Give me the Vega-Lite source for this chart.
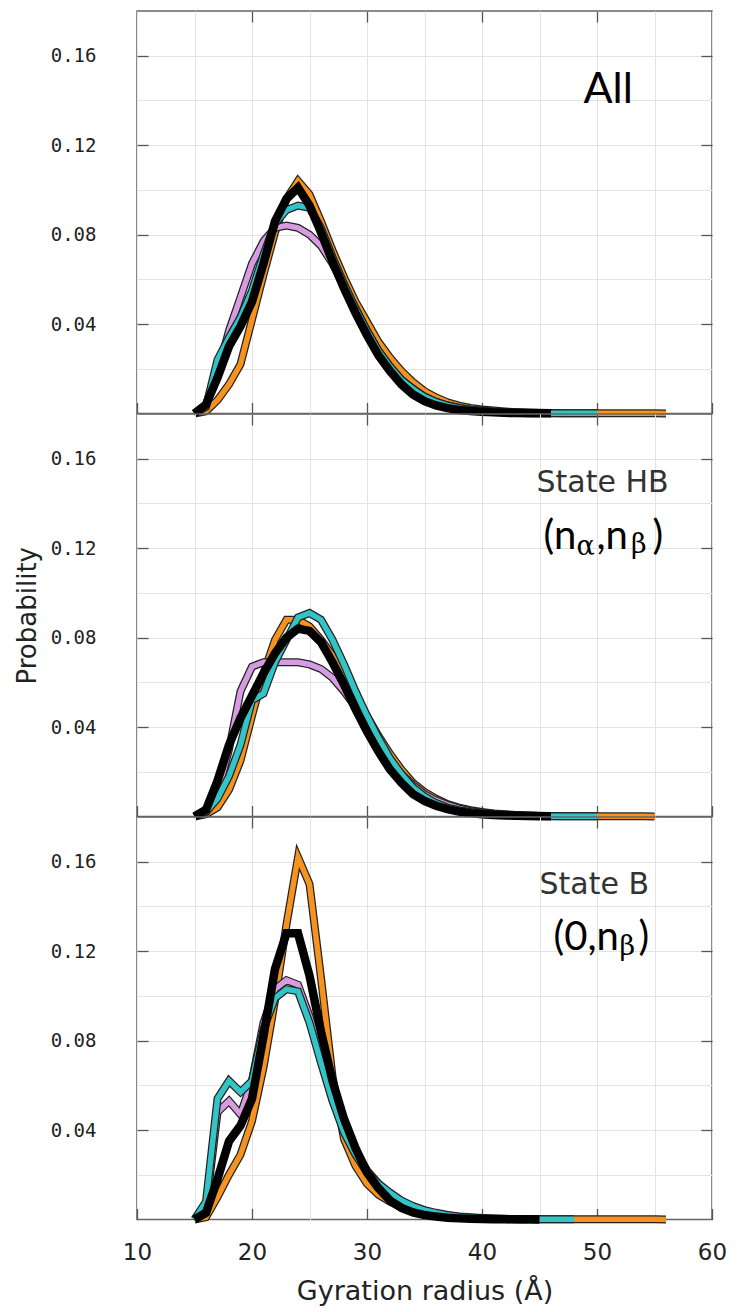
{
  "$schema": "https://vega.github.io/schema/vega-lite/v6.json",
  "padding": {"left": 13, "top": 9, "right": 5, "bottom": 5},
  "background": "white",
  "spacing": 0,
  "bounds": "flush",
  "config": {
    "concat": {"spacing": 0},
    "view": {"stroke": "#666", "strokeWidth": 1.5},
    "axis": {"domain": false, "minExtent": 0, "gridColor": "#e3e3e3", "gridWidth": 1, "tickColor": "#555", "tickWidth": 1.3, "labelColor": "#222", "titleColor": "#222", "titleFontWeight": "normal", "labelFlush": false, "labelOverlap": false, "labelBound": false},
    "axisX": {"labelFont": "DejaVu Sans", "labelFontSize": 23, "titleFont": "DejaVu Sans", "titleFontSize": 27},
    "axisY": {"labelFont": "DejaVu Sans Mono", "labelFontSize": 19, "titleFont": "DejaVu Sans", "titleFontSize": 26}
  },
  "datasets": {
    "curves": [
      {"panel":"All","x":15,"orange":0,"purple":0,"cyan":0,"black":0},
      {"panel":"All","x":16,"orange":0.001,"purple":0.004,"cyan":0.003,"black":0.004},
      {"panel":"All","x":17,"orange":0.006,"purple":0.018,"cyan":0.024,"black":0.016},
      {"panel":"All","x":18,"orange":0.013,"purple":0.037,"cyan":0.034,"black":0.030},
      {"panel":"All","x":19,"orange":0.022,"purple":0.052,"cyan":0.043,"black":0.039},
      {"panel":"All","x":20,"orange":0.042,"purple":0.067,"cyan":0.055,"black":0.050},
      {"panel":"All","x":21,"orange":0.062,"purple":0.077,"cyan":0.071,"black":0.067},
      {"panel":"All","x":22,"orange":0.081,"purple":0.083,"cyan":0.085,"black":0.086},
      {"panel":"All","x":23,"orange":0.096,"purple":0.084,"cyan":0.091,"black":0.096},
      {"panel":"All","x":24,"orange":0.104,"purple":0.083,"cyan":0.093,"black":0.101},
      {"panel":"All","x":25,"orange":0.098,"purple":0.080,"cyan":0.092,"black":0.093},
      {"panel":"All","x":26,"orange":0.086,"purple":0.075,"cyan":0.083,"black":0.081},
      {"panel":"All","x":27,"orange":0.073,"purple":0.067,"cyan":0.070,"black":0.068},
      {"panel":"All","x":28,"orange":0.061,"purple":0.057,"cyan":0.058,"black":0.056},
      {"panel":"All","x":29,"orange":0.050,"purple":0.047,"cyan":0.047,"black":0.045},
      {"panel":"All","x":30,"orange":0.041,"purple":0.037,"cyan":0.037,"black":0.035},
      {"panel":"All","x":31,"orange":0.032,"purple":0.028,"cyan":0.028,"black":0.026},
      {"panel":"All","x":32,"orange":0.025,"purple":0.021,"cyan":0.021,"black":0.019},
      {"panel":"All","x":33,"orange":0.019,"purple":0.015,"cyan":0.015,"black":0.013},
      {"panel":"All","x":34,"orange":0.014,"purple":0.011,"cyan":0.011,"black":0.0085},
      {"panel":"All","x":35,"orange":0.010,"purple":0.0075,"cyan":0.0075,"black":0.0055},
      {"panel":"All","x":36,"orange":0.0072,"purple":0.0052,"cyan":0.0052,"black":0.0036},
      {"panel":"All","x":37,"orange":0.005,"purple":0.0036,"cyan":0.0036,"black":0.0024},
      {"panel":"All","x":38,"orange":0.0035,"purple":0.0025,"cyan":0.0025,"black":0.0016},
      {"panel":"All","x":39,"orange":0.0025,"purple":0.0017,"cyan":0.0017,"black":0.0011},
      {"panel":"All","x":40,"orange":0.0018,"purple":0.0012,"cyan":0.0012,"black":0.0008},
      {"panel":"All","x":41,"orange":0.0013,"purple":0.0008,"cyan":0.0009,"black":0.0005},
      {"panel":"All","x":42,"orange":0.0009,"purple":0.0005,"cyan":0.0006,"black":0.0003},
      {"panel":"All","x":43,"orange":0.0006,"purple":0.0003,"cyan":0.0004,"black":0.0002},
      {"panel":"All","x":44,"orange":0.0004,"purple":0.0002,"cyan":0.0003,"black":0.0001},
      {"panel":"All","x":45,"orange":0.0003,"purple":0.0001,"cyan":0.0002,"black":0.0001},
      {"panel":"All","x":46,"orange":0.0002,"cyan":0.0001,"black":0.0001},
      {"panel":"All","x":47,"orange":0.0001,"cyan":0.0001},
      {"panel":"All","x":48,"orange":0.0001,"cyan":0.0001},
      {"panel":"All","x":49,"orange":0.0001,"cyan":0.0001},
      {"panel":"All","x":50,"orange":0.0001,"cyan":0.0001},
      {"panel":"All","x":51,"orange":0.0001},
      {"panel":"All","x":52,"orange":0.0001},
      {"panel":"All","x":53,"orange":0.0001},
      {"panel":"All","x":54,"orange":0.0001},
      {"panel":"All","x":55,"orange":0.0001},
      {"panel":"All","x":56,"orange":0},

      {"panel":"HB","x":15,"orange":0,"purple":0,"cyan":0,"black":0},
      {"panel":"HB","x":16,"orange":0.001,"purple":0.002,"cyan":0.002,"black":0.003},
      {"panel":"HB","x":17,"orange":0.004,"purple":0.010,"cyan":0.008,"black":0.016},
      {"panel":"HB","x":18,"orange":0.012,"purple":0.030,"cyan":0.018,"black":0.032},
      {"panel":"HB","x":19,"orange":0.025,"purple":0.056,"cyan":0.032,"black":0.044},
      {"panel":"HB","x":20,"orange":0.045,"purple":0.067,"cyan":0.052,"black":0.054},
      {"panel":"HB","x":21,"orange":0.064,"purple":0.069,"cyan":0.055,"black":0.064},
      {"panel":"HB","x":22,"orange":0.079,"purple":0.069,"cyan":0.069,"black":0.073},
      {"panel":"HB","x":23,"orange":0.088,"purple":0.069,"cyan":0.079,"black":0.080},
      {"panel":"HB","x":24,"orange":0.088,"purple":0.069,"cyan":0.089,"black":0.084},
      {"panel":"HB","x":25,"orange":0.085,"purple":0.068,"cyan":0.091,"black":0.083},
      {"panel":"HB","x":26,"orange":0.079,"purple":0.066,"cyan":0.088,"black":0.078},
      {"panel":"HB","x":27,"orange":0.072,"purple":0.062,"cyan":0.079,"black":0.069},
      {"panel":"HB","x":28,"orange":0.063,"purple":0.056,"cyan":0.068,"black":0.059},
      {"panel":"HB","x":29,"orange":0.054,"purple":0.049,"cyan":0.056,"black":0.048},
      {"panel":"HB","x":30,"orange":0.045,"purple":0.041,"cyan":0.045,"black":0.038},
      {"panel":"HB","x":31,"orange":0.036,"purple":0.033,"cyan":0.035,"black":0.029},
      {"panel":"HB","x":32,"orange":0.028,"purple":0.025,"cyan":0.026,"black":0.021},
      {"panel":"HB","x":33,"orange":0.021,"purple":0.019,"cyan":0.019,"black":0.015},
      {"panel":"HB","x":34,"orange":0.015,"purple":0.014,"cyan":0.013,"black":0.010},
      {"panel":"HB","x":35,"orange":0.011,"purple":0.010,"cyan":0.009,"black":0.007},
      {"panel":"HB","x":36,"orange":0.008,"purple":0.0072,"cyan":0.006,"black":0.0048},
      {"panel":"HB","x":37,"orange":0.0055,"purple":0.0052,"cyan":0.004,"black":0.0033},
      {"panel":"HB","x":38,"orange":0.004,"purple":0.0036,"cyan":0.0028,"black":0.0022},
      {"panel":"HB","x":39,"orange":0.0028,"purple":0.0025,"cyan":0.002,"black":0.0015},
      {"panel":"HB","x":40,"orange":0.002,"purple":0.0017,"cyan":0.0014,"black":0.001},
      {"panel":"HB","x":41,"orange":0.0014,"purple":0.0012,"cyan":0.001,"black":0.0007},
      {"panel":"HB","x":42,"orange":0.001,"purple":0.0008,"cyan":0.0007,"black":0.0005},
      {"panel":"HB","x":43,"orange":0.0007,"purple":0.0005,"cyan":0.0005,"black":0.0003},
      {"panel":"HB","x":44,"orange":0.0005,"purple":0.0003,"cyan":0.0003,"black":0.0002},
      {"panel":"HB","x":45,"orange":0.0003,"purple":0.0002,"cyan":0.0002,"black":0.0001},
      {"panel":"HB","x":46,"orange":0.0002,"cyan":0.0001,"black":0.0001},
      {"panel":"HB","x":47,"orange":0.0001,"cyan":0.0001},
      {"panel":"HB","x":48,"orange":0.0001,"cyan":0.0001},
      {"panel":"HB","x":49,"orange":0.0001,"cyan":0.0001},
      {"panel":"HB","x":50,"orange":0.0001,"cyan":0.0001},
      {"panel":"HB","x":51,"orange":0.0001},
      {"panel":"HB","x":52,"orange":0.0001},
      {"panel":"HB","x":53,"orange":0.0001},
      {"panel":"HB","x":54,"orange":0.0001},
      {"panel":"HB","x":55,"orange":0},

      {"panel":"B","x":15,"orange":0,"purple":0,"cyan":0,"black":0},
      {"panel":"B","x":16,"orange":0.001,"purple":0.005,"cyan":0.008,"black":0.003},
      {"panel":"B","x":17,"orange":0.010,"purple":0.048,"cyan":0.054,"black":0.018},
      {"panel":"B","x":18,"orange":0.020,"purple":0.053,"cyan":0.062,"black":0.035},
      {"panel":"B","x":19,"orange":0.029,"purple":0.047,"cyan":0.057,"black":0.042},
      {"panel":"B","x":20,"orange":0.044,"purple":0.062,"cyan":0.062,"black":0.054},
      {"panel":"B","x":21,"orange":0.068,"purple":0.088,"cyan":0.085,"black":0.082},
      {"panel":"B","x":22,"orange":0.098,"purple":0.103,"cyan":0.099,"black":0.112},
      {"panel":"B","x":23,"orange":0.132,"purple":0.107,"cyan":0.103,"black":0.128},
      {"panel":"B","x":24,"orange":0.162,"purple":0.105,"cyan":0.102,"black":0.128},
      {"panel":"B","x":25,"orange":0.150,"purple":0.091,"cyan":0.088,"black":0.109},
      {"panel":"B","x":26,"orange":0.108,"purple":0.074,"cyan":0.070,"black":0.084},
      {"panel":"B","x":27,"orange":0.064,"purple":0.057,"cyan":0.053,"black":0.062},
      {"panel":"B","x":28,"orange":0.036,"purple":0.043,"cyan":0.039,"black":0.045},
      {"panel":"B","x":29,"orange":0.024,"purple":0.031,"cyan":0.029,"black":0.032},
      {"panel":"B","x":30,"orange":0.016,"purple":0.022,"cyan":0.021,"black":0.021},
      {"panel":"B","x":31,"orange":0.011,"purple":0.016,"cyan":0.016,"black":0.014},
      {"panel":"B","x":32,"orange":0.008,"purple":0.011,"cyan":0.012,"black":0.0085},
      {"panel":"B","x":33,"orange":0.0055,"purple":0.0078,"cyan":0.0085,"black":0.0052},
      {"panel":"B","x":34,"orange":0.004,"purple":0.0055,"cyan":0.006,"black":0.0032},
      {"panel":"B","x":35,"orange":0.003,"purple":0.0038,"cyan":0.0042,"black":0.002},
      {"panel":"B","x":36,"orange":0.002,"purple":0.0026,"cyan":0.003,"black":0.0013},
      {"panel":"B","x":37,"orange":0.0014,"purple":0.0018,"cyan":0.002,"black":0.0008},
      {"panel":"B","x":38,"orange":0.001,"purple":0.0012,"cyan":0.0014,"black":0.0005},
      {"panel":"B","x":39,"orange":0.0007,"purple":0.0008,"cyan":0.001,"black":0.0003},
      {"panel":"B","x":40,"orange":0.0005,"purple":0.0005,"cyan":0.0007,"black":0.0002},
      {"panel":"B","x":41,"orange":0.0003,"purple":0.0003,"cyan":0.0005,"black":0.0001},
      {"panel":"B","x":42,"orange":0.0002,"purple":0.0002,"cyan":0.0003,"black":0.0001},
      {"panel":"B","x":43,"orange":0.0001,"purple":0.0001,"cyan":0.0002,"black":0.0001},
      {"panel":"B","x":44,"orange":0.0001,"purple":0.0001,"cyan":0.0001,"black":0.0001},
      {"panel":"B","x":45,"orange":0.0001,"cyan":0.0001,"black":0},
      {"panel":"B","x":46,"orange":0.0001,"cyan":0.0001},
      {"panel":"B","x":47,"orange":0.0001,"cyan":0.0001},
      {"panel":"B","x":48,"orange":0.0001,"cyan":0.0001},
      {"panel":"B","x":49,"orange":0.0001},
      {"panel":"B","x":50,"orange":0.0001},
      {"panel":"B","x":51,"orange":0.0001},
      {"panel":"B","x":52,"orange":0.0001},
      {"panel":"B","x":53,"orange":0.0001},
      {"panel":"B","x":54,"orange":0.0001},
      {"panel":"B","x":55,"orange":0.0001},
      {"panel":"B","x":56,"orange":0}
    ]
  },
  "data": {"name": "curves"},
  "vconcat": [
    {
      "width": 575, "height": 402.5,
      "layer": [
        {
          "transform": [{"filter": "datum.panel === 'All'"}, {"fold": ["orange", "purple", "cyan", "black"], "as": ["series", "prob"]}, {"filter": "isValid(datum.prob)"}],
          "encoding": {
            "x": {"field": "x", "type": "quantitative", "scale": {"domain": [10, 60], "nice": false, "zero": false},
              "axis": {"orient": "bottom", "values": [10,15,20,25,30,35,40,45,50,55,60], "grid": true, "tickSize": -11, "tickOpacity": {"condition": {"test": "datum.value % 10 === 0", "value": 1}, "value": 0}, "labels": false, "title": null}},
            "y": {"field": "prob", "type": "quantitative", "scale": {"domain": [0, 0.18], "nice": false},
              "axis": {"orient": "left", "values": [0.02,0.04,0.06,0.08,0.1,0.12,0.14,0.16], "grid": true, "tickSize": -11, "tickOpacity": {"condition": {"test": "round(datum.value*100) % 4 === 0", "value": 1}, "value": 0}, "labelExpr": "round(datum.value*100) % 4 === 0 ? format(datum.value, '.2f') : ''", "labelPadding": 52, "title": null}}
          },
          "layer": [
            {"transform": [{"filter": "datum.series === 'orange'"}], "mark": {"type": "line", "stroke": "#222", "strokeWidth": 8}},
            {"transform": [{"filter": "datum.series === 'orange'"}], "mark": {"type": "line", "stroke": "#F6921E", "strokeWidth": 5.5}},
            {"transform": [{"filter": "datum.series === 'purple'"}], "mark": {"type": "line", "stroke": "#222", "strokeWidth": 8}},
            {"transform": [{"filter": "datum.series === 'purple'"}], "mark": {"type": "line", "stroke": "#D69BE0", "strokeWidth": 5.5}},
            {"transform": [{"filter": "datum.series === 'cyan'"}], "mark": {"type": "line", "stroke": "#222", "strokeWidth": 8}},
            {"transform": [{"filter": "datum.series === 'cyan'"}], "mark": {"type": "line", "stroke": "#33C4C8", "strokeWidth": 5.5}},
            {"transform": [{"filter": "datum.series === 'black'"}], "mark": {"type": "line", "stroke": "#000", "strokeWidth": 8.5}}
          ]
        },
        {
          "data": {"values": [{"t": "All", "x": 48.83, "y": 0.1388}]},
          "mark": {"type": "text", "align": "left", "baseline": "alphabetic", "font": "Lato", "fontSize": 43, "color": "#000"},
          "encoding": {
            "x": {"field": "x", "type": "quantitative", "scale": {"domain": [10, 60], "nice": false, "zero": false},
              "axis": {"orient": "top", "values": [20,30,40,50], "grid": false, "labels": false, "tickSize": -11, "title": null}},
            "y": {"field": "y", "type": "quantitative", "scale": {"domain": [0, 0.18], "nice": false},
              "axis": {"orient": "right", "values": [0.04,0.08,0.12,0.16], "grid": false, "labels": false, "tickSize": -11, "title": null}},
            "text": {"field": "t"}
          }
        }
      ],
      "resolve": {"axis": {"x": "independent", "y": "independent"}}
    },
    {
      "width": 575, "height": 402.5,
      "layer": [
        {
          "transform": [{"filter": "datum.panel === 'HB'"}, {"fold": ["orange", "purple", "cyan", "black"], "as": ["series", "prob"]}, {"filter": "isValid(datum.prob)"}],
          "encoding": {
            "x": {"field": "x", "type": "quantitative", "scale": {"domain": [10, 60], "nice": false, "zero": false},
              "axis": {"orient": "bottom", "values": [10,15,20,25,30,35,40,45,50,55,60], "grid": true, "tickSize": -11, "tickOpacity": {"condition": {"test": "datum.value % 10 === 0", "value": 1}, "value": 0}, "labels": false, "title": null}},
            "y": {"field": "prob", "type": "quantitative", "scale": {"domain": [0, 0.18], "nice": false},
              "axis": {"orient": "left", "values": [0.02,0.04,0.06,0.08,0.1,0.12,0.14,0.16], "grid": true, "tickSize": -11, "tickOpacity": {"condition": {"test": "round(datum.value*100) % 4 === 0", "value": 1}, "value": 0}, "labelExpr": "round(datum.value*100) % 4 === 0 ? format(datum.value, '.2f') : ''", "labelPadding": 52, "title": "Probability", "titlePadding": 10}}
          },
          "layer": [
            {"transform": [{"filter": "datum.series === 'orange'"}], "mark": {"type": "line", "stroke": "#222", "strokeWidth": 8}},
            {"transform": [{"filter": "datum.series === 'orange'"}], "mark": {"type": "line", "stroke": "#F6921E", "strokeWidth": 5.5}},
            {"transform": [{"filter": "datum.series === 'purple'"}], "mark": {"type": "line", "stroke": "#222", "strokeWidth": 8}},
            {"transform": [{"filter": "datum.series === 'purple'"}], "mark": {"type": "line", "stroke": "#D69BE0", "strokeWidth": 5.5}},
            {"transform": [{"filter": "datum.series === 'cyan'"}], "mark": {"type": "line", "stroke": "#222", "strokeWidth": 8}},
            {"transform": [{"filter": "datum.series === 'cyan'"}], "mark": {"type": "line", "stroke": "#33C4C8", "strokeWidth": 5.5}},
            {"transform": [{"filter": "datum.series === 'black'"}], "mark": {"type": "line", "stroke": "#000", "strokeWidth": 8.5}}
          ]
        },
        {
          "encoding": {
            "x": {"field": "x", "type": "quantitative", "scale": {"domain": [10, 60], "nice": false, "zero": false},
              "axis": {"orient": "top", "values": [20,30,40,50], "grid": false, "labels": false, "tickSize": -11, "title": null}},
            "y": {"field": "y", "type": "quantitative", "scale": {"domain": [0, 0.18], "nice": false},
              "axis": {"orient": "right", "values": [0.04,0.08,0.12,0.16], "grid": false, "labels": false, "tickSize": -11, "title": null}},
            "text": {"field": "t"}
          },
          "layer": [
            {"data": {"values": [{"t": "State HB", "x": 44.74, "y": 0.1451}]},
             "mark": {"type": "text", "align": "left", "baseline": "alphabetic", "font": "DejaVu Sans", "fontSize": 30, "color": "#333"}},
            {"data": {"values": [{"t": "(n", "x": 45.35, "y": 0.1196}, {"t": ",n", "x": 49.96, "y": 0.1196}, {"t": ")", "x": 54.83, "y": 0.1196}]},
             "mark": {"type": "text", "align": "left", "baseline": "alphabetic", "font": "Lato", "fontSize": 40, "color": "#000"}},
            {"data": {"values": [{"t": "α", "x": 48.22, "y": 0.1169}, {"t": "β", "x": 52.95, "y": 0.1178}]},
             "mark": {"type": "text", "align": "left", "baseline": "alphabetic", "font": "DejaVu Serif", "fontSize": 27, "color": "#000"}}
          ]
        }
      ],
      "resolve": {"axis": {"x": "independent", "y": "independent"}}
    },
    {
      "width": 575, "height": 402.5,
      "layer": [
        {
          "transform": [{"filter": "datum.panel === 'B'"}, {"fold": ["orange", "purple", "cyan", "black"], "as": ["series", "prob"]}, {"filter": "isValid(datum.prob)"}],
          "encoding": {
            "x": {"field": "x", "type": "quantitative", "scale": {"domain": [10, 60], "nice": false, "zero": false},
              "axis": {"orient": "bottom", "values": [10,15,20,25,30,35,40,45,50,55,60], "grid": true, "tickSize": -11, "tickOpacity": {"condition": {"test": "datum.value % 10 === 0", "value": 1}, "value": 0}, "labelExpr": "datum.value % 10 === 0 ? datum.label : ''", "labelPadding": 33, "title": "Gyration radius (Å)", "titlePadding": 14}},
            "y": {"field": "prob", "type": "quantitative", "scale": {"domain": [0, 0.18], "nice": false},
              "axis": {"orient": "left", "values": [0.02,0.04,0.06,0.08,0.1,0.12,0.14,0.16], "grid": true, "tickSize": -11, "tickOpacity": {"condition": {"test": "round(datum.value*100) % 4 === 0", "value": 1}, "value": 0}, "labelExpr": "round(datum.value*100) % 4 === 0 ? format(datum.value, '.2f') : ''", "labelPadding": 52, "title": null}}
          },
          "layer": [
            {"transform": [{"filter": "datum.series === 'orange'"}], "mark": {"type": "line", "stroke": "#222", "strokeWidth": 8}},
            {"transform": [{"filter": "datum.series === 'orange'"}], "mark": {"type": "line", "stroke": "#F6921E", "strokeWidth": 5.5}},
            {"transform": [{"filter": "datum.series === 'purple'"}], "mark": {"type": "line", "stroke": "#222", "strokeWidth": 8}},
            {"transform": [{"filter": "datum.series === 'purple'"}], "mark": {"type": "line", "stroke": "#D69BE0", "strokeWidth": 5.5}},
            {"transform": [{"filter": "datum.series === 'cyan'"}], "mark": {"type": "line", "stroke": "#222", "strokeWidth": 8}},
            {"transform": [{"filter": "datum.series === 'cyan'"}], "mark": {"type": "line", "stroke": "#33C4C8", "strokeWidth": 5.5}},
            {"transform": [{"filter": "datum.series === 'black'"}], "mark": {"type": "line", "stroke": "#000", "strokeWidth": 8.5}}
          ]
        },
        {
          "encoding": {
            "x": {"field": "x", "type": "quantitative", "scale": {"domain": [10, 60], "nice": false, "zero": false},
              "axis": {"orient": "top", "values": [20,30,40,50], "grid": false, "labels": false, "tickSize": -11, "title": null}},
            "y": {"field": "y", "type": "quantitative", "scale": {"domain": [0, 0.18], "nice": false},
              "axis": {"orient": "right", "values": [0.04,0.08,0.12,0.16], "grid": false, "labels": false, "tickSize": -11, "title": null}},
            "text": {"field": "t"}
          },
          "layer": [
            {"data": {"values": [{"t": "State B", "x": 45.0, "y": 0.1456}]},
             "mark": {"type": "text", "align": "left", "baseline": "alphabetic", "font": "DejaVu Sans", "fontSize": 30, "color": "#333"}},
            {"data": {"values": [{"t": "(0,n", "x": 46.22, "y": 0.1205}, {"t": ")", "x": 53.6, "y": 0.1205}]},
             "mark": {"type": "text", "align": "left", "baseline": "alphabetic", "font": "Lato", "fontSize": 40, "color": "#000"}},
            {"data": {"values": [{"t": "β", "x": 51.96, "y": 0.1185}]},
             "mark": {"type": "text", "align": "left", "baseline": "alphabetic", "font": "DejaVu Serif", "fontSize": 27, "color": "#000"}}
          ]
        }
      ],
      "resolve": {"axis": {"x": "independent", "y": "independent"}}
    }
  ]
}
